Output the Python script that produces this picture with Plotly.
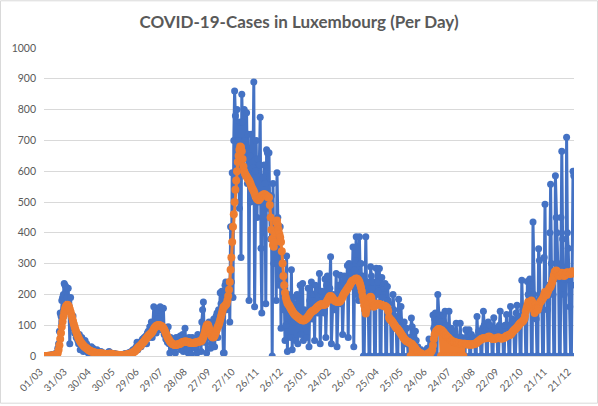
import pandas as pd
import plotly.graph_objects as go

# daily new cases (one row = one week, starting Sun 01/03/2020)
cases = [
    0, 0, 0, 1, 1, 1, 2,
    3, 2, 4, 5, 2, 4, 8,
    5, 10, 25, 40, 80, 140, 130,
    180, 190, 200, 235, 230, 225, 190,
    190, 220, 160, 40, 190, 110, 120,
    130, 90, 75, 85, 60, 60, 50,
    40, 70, 20, 55, 60, 40, 15,
    30, 50, 20, 40, 25, 10, 15,
    20, 15, 30, 10, 25, 5, 10,
    5, 10, 20, 8, 5, 12, 10,
    15, 5, 8, 10, 3, 6, 2,
    3, 10, 5, 15, 12, 4, 3,
    2, 5, 3, 8, 4, 2, 6,
    3, 4, 2, 1, 5, 3, 2,
    5, 2, 8, 3, 4, 6, 10,
    8, 12, 6, 15, 10, 20, 18,
    15, 25, 30, 45, 20, 35, 40,
    45, 30, 50, 55, 40, 60, 55,
    65, 40, 75, 80, 60, 95, 70,
    110, 60, 95, 160, 90, 80, 75,
    140, 120, 150, 95, 160, 85, 100,
    90, 155, 70, 75, 55, 80, 45,
    95, 40, 10, 60, 50, 30, 35,
    20, 55, 10, 60, 45, 30, 40,
    60, 65, 20, 50, 70, 15, 45,
    90, 40, 20, 55, 10, 60, 30,
    40, 5, 60, 35, 50, 55, 25,
    30, 10, 70, 50, 45, 60, 15,
    110, 150, 175, 45, 90, 60, 10,
    100, 90, 110, 60, 25, 40, 55,
    110, 120, 30, 90, 130, 140, 60,
    150, 120, 205, 170, 210, 140, 10,
    10, 230, 240, 150, 190, 200, 240,
    110, 420, 240, 595, 190, 700, 860,
    780, 560, 800, 620, 700, 480, 760,
    320, 850, 760, 600, 800, 700, 640,
    790, 560, 720, 180, 650, 500, 720,
    560, 610, 890, 160, 600, 700, 450,
    640, 500, 620, 775, 350, 140, 520,
    580, 620, 560, 170, 670, 660, 480,
    660, 450, 380, 520, 0, 560, 300,
    380, 420, 180, 595, 450, 380, 230,
    420, 90, 330, 250, 150, 210, 50,
    100, 325, 15, 200, 150, 130, 60,
    280, 20, 190, 110, 170, 50, 130,
    200, 40, 160, 120, 230, 70, 110,
    235, 50, 150, 100, 140, 60, 120,
    220, 30, 180, 150, 240, 120, 170,
    200, 50, 230, 180, 210, 140, 190,
    268, 40, 200, 210, 150, 190, 140,
    250, 60, 230, 260, 190, 200, 220,
    322, 40, 180, 200, 170, 150, 160,
    268, 30, 200, 230, 180, 262, 170,
    230, 70, 240, 260, 250, 220, 210,
    294, 60, 300, 250, 290, 270, 240,
    354, 30, 280, 310, 387, 200, 250,
    180, 387, 250, 300, 220, 260, 0,
    0, 150, 387, 200, 240, 180, 0,
    0, 290, 260, 220, 240, 200, 0,
    0, 285, 200, 240, 210, 284, 0,
    0, 255, 190, 230, 220, 235, 0,
    0, 226, 180, 170, 150, 120, 0,
    0, 200, 150, 130, 110, 90, 0,
    0, 184, 120, 90, 161, 80, 0,
    0, 110, 60, 40, 90, 50, 0,
    0, 60, 40, 123, 95, 30, 0,
    0, 80, 50, 20, 30, 10, 0,
    0, 20, 10, 5, 8, 15, 0,
    0, 10, 25, 15, 55, 20, 0,
    0, 40, 133, 90, 120, 140, 0,
    0, 200, 120, 100, 133, 110, 0,
    0, 133, 90, 145, 100, 80, 0,
    0, 145, 70, 60, 90, 50, 0,
    0, 80, 50, 106, 60, 40, 0,
    0, 106, 45, 60, 50, 40, 0,
    0, 85, 40, 60, 50, 85, 0,
    0, 70, 50, 60, 55, 45, 0,
    0, 128, 60, 80, 70, 60, 0,
    0, 90, 145, 100, 80, 70, 0,
    0, 110, 90, 100, 70, 80, 0,
    0, 124, 80, 90, 70, 60, 0,
    0, 100, 145, 80, 70, 90, 0,
    0, 100, 80, 135, 100, 70, 0,
    0, 161, 100, 120, 110, 90, 0,
    0, 140, 165, 130, 120, 110, 0,
    0, 246, 150, 160, 130, 120, 0,
    0, 242, 200, 180, 250, 230, 0,
    0, 435, 200, 150, 180, 120, 0,
    0, 348, 310, 150, 200, 180, 0,
    0, 320, 493, 200, 230, 150, 0,
    0, 400, 558, 300, 250, 200, 0,
    0, 585, 450, 400, 300, 250, 0,
    0, 450, 665, 380, 250, 200, 0,
    0, 710, 400, 350, 250, 160, 0,
    0, 230, 600, 585,
]

# 7-day average
avg7 = [
    0, 0, 0, 0, 1, 1, 1,
    1, 1, 2, 2, 2, 3, 3,
    3, 5, 10, 20, 35, 55, 75,
    95, 112, 128, 142, 153, 160, 164,
    166, 165, 160, 152, 143, 134, 124,
    114, 104, 95, 86, 78, 71, 64,
    58, 53, 48, 44, 40, 37, 34,
    31, 29, 27, 25, 23, 21, 19,
    17, 16, 15, 14, 13, 12, 11,
    10, 10, 9, 9, 9, 9, 8,
    8, 8, 7, 7, 7, 6, 6,
    6, 6, 6, 7, 7, 7, 7,
    6, 5, 5, 4, 4, 4, 4,
    4, 3, 3, 3, 3, 3, 3,
    3, 3, 4, 4, 5, 5, 6,
    6, 7, 8, 9, 10, 12, 13,
    15, 17, 20, 23, 26, 29, 31,
    33, 36, 39, 42, 45, 48, 52,
    55, 58, 62, 65, 68, 70, 73,
    75, 78, 82, 88, 92, 95, 97,
    99, 100, 101, 100, 99, 98, 96,
    94, 90, 86, 80, 74, 68, 62,
    57, 53, 49, 45, 42, 40, 38,
    37, 36, 36, 36, 37, 38, 38,
    39, 40, 42, 44, 45, 46, 46,
    47, 47, 46, 46, 45, 44, 44,
    43, 42, 42, 42, 43, 43, 44,
    44, 45, 46, 46, 47, 48, 48,
    50, 55, 62, 70, 80, 90, 98,
    102, 100, 92, 82, 72, 66, 62,
    60, 62, 66, 72, 80, 88, 95,
    100, 108, 118, 128, 138, 148, 158,
    160, 163, 166, 170, 180, 195, 215,
    240, 280, 320, 370, 420, 460, 500,
    540, 570, 600, 630, 650, 670, 680,
    678, 665, 640, 615, 600, 592, 587,
    583, 578, 574, 570, 565, 558, 550,
    545, 540, 535, 528, 520, 515, 510,
    508, 506, 508, 512, 516, 520, 522,
    524, 525, 524, 522, 520, 518, 515,
    515, 490, 450, 410, 380, 360, 355,
    370, 400, 435, 440, 425, 410, 395,
    385, 370, 340, 300, 260, 230, 205,
    190, 180, 172, 168, 165, 160, 155,
    150, 146, 142, 138, 135, 132, 130,
    128, 126, 124, 122, 120, 118, 117,
    116, 115, 116, 118, 120, 122, 125,
    128, 132, 136, 140, 143, 145, 147,
    148, 150, 152, 155, 158, 160, 162,
    164, 166, 168, 168, 167, 166, 166,
    167, 170, 175, 180, 185, 190, 194,
    195, 193, 190, 186, 182, 180, 178,
    177, 176, 175, 175, 176, 178, 182,
    186, 192, 198, 203, 207, 210, 214,
    218, 222, 226, 230, 235, 240, 244,
    244, 246, 248, 250, 252, 251, 248,
    245, 240, 232, 222, 210, 195, 180,
    165, 150, 138, 150, 165, 178, 186,
    190, 192, 188, 175, 162, 160, 163,
    166, 168, 170, 170, 169, 168, 167,
    166, 165, 164, 163, 163, 162, 160,
    158, 155, 145, 125, 120, 118, 115,
    112, 108, 104, 100, 96, 92, 90,
    88, 84, 80, 76, 72, 68, 64,
    60, 56, 53, 50, 48, 47, 46,
    44, 42, 0, 40, 38, 0, 32,
    28, 24, 0, 18, 15, 12, 0,
    10, 8, 6, 0, 5, 4, 0,
    4, 0, 6, 8, 10, 0, 14,
    15, 20, 35, 55, 69, 75, 80,
    83, 86, 88, 87, 86, 0, 84,
    0, 78, 74, 0, 68, 64, 0,
    60, 57, 0, 52, 50, 48, 0,
    46, 45, 0, 44, 43, 42, 0,
    41, 0, 40, 40, 40, 0, 40,
    40, 39, 38, 38, 37, 37, 37,
    37, 37, 37, 38, 38, 39, 40,
    42, 44, 46, 48, 50, 52, 54,
    56, 57, 58, 58, 58, 58, 59,
    60, 62, 63, 62, 60, 58, 56,
    55, 55, 56, 57, 58, 58, 60,
    60, 59, 58, 57, 57, 58, 58,
    59, 61, 63, 65, 66, 67, 68,
    68, 70, 73, 76, 80, 83, 86,
    88, 90, 93, 96, 100, 103, 106,
    108, 110, 112, 115, 120, 130, 145,
    155, 165, 175, 170, 160, 165, 180,
    175, 170, 150, 140, 165, 155, 150,
    150, 160, 170, 175, 178, 182, 186,
    190, 200, 208, 200, 198, 205, 212,
    218, 222, 226, 232, 240, 250, 262,
    273, 275, 278, 275, 268, 262, 260,
    262, 265, 270, 268, 262, 260, 262,
    265, 270, 272, 270, 268, 266, 268,
    272, 275, 270, 268,
]

start_date = '2020-03-01'
days = pd.date_range(start_date, periods=len(cases), freq='D')

GRAY = '#595959'
GRID = '#D9D9D9'

fig = go.Figure()
fig.add_trace(go.Scatter(x=days, y=cases, mode='lines+markers', name='Cases',
                         line=dict(color='#4472C4', width=3),
                         marker=dict(color='#4472C4', size=7)))
fig.add_trace(go.Scatter(x=days, y=avg7, mode='lines+markers', name='7-day avg',
                         line=dict(color='#ED7D31', width=3),
                         marker=dict(color='#ED7D31', size=8)))

fig.update_layout(
    width=598, height=406,
    margin=dict(l=44, r=24, t=48, b=48),
    paper_bgcolor='white', plot_bgcolor='white',
    showlegend=False,
    font=dict(family='Lato, Open Sans, sans-serif', color=GRAY, size=11),
    title=dict(text='<b>COVID-19-Cases in Luxembourg (Per Day)</b>',
               x=0.5, xref='container', xanchor='center',
               y=0.945, yref='container', yanchor='middle',
               font=dict(family='Lato, Open Sans, sans-serif', size=17, color=GRAY)),
    xaxis=dict(type='date',
               range=['2020-02-28 18:00', '2021-12-22 06:00'],
               tick0=start_date, dtick=30 * 86400000,
               tickformat='%d/%m', tickangle=-45, tickfont=dict(size=10),
               ticklabelshift=-5, ticklabelstandoff=5,
               showgrid=False, showline=True, linecolor=GRID, linewidth=1,
               ticks='', zeroline=False),
    yaxis=dict(range=[0, 1000], dtick=100, tick0=0, tickfont=dict(size=10.5),
               showgrid=True, gridcolor=GRID, gridwidth=1,
               zeroline=False, ticks='', ticklabelstandoff=7),
    shapes=[dict(type='rect', xref='paper', yref='paper',
                 x0=-43.5 / 530, x1=553.5 / 530, y0=-47.5 / 310, y1=357.5 / 310,
                 line=dict(color=GRID, width=1), layer='below')],
)

# the page's default body margin would push the chart 8px off
fig.write_html('out.html', config={'displayModeBar': False},
               post_script="document.body.style.margin = '0';")
